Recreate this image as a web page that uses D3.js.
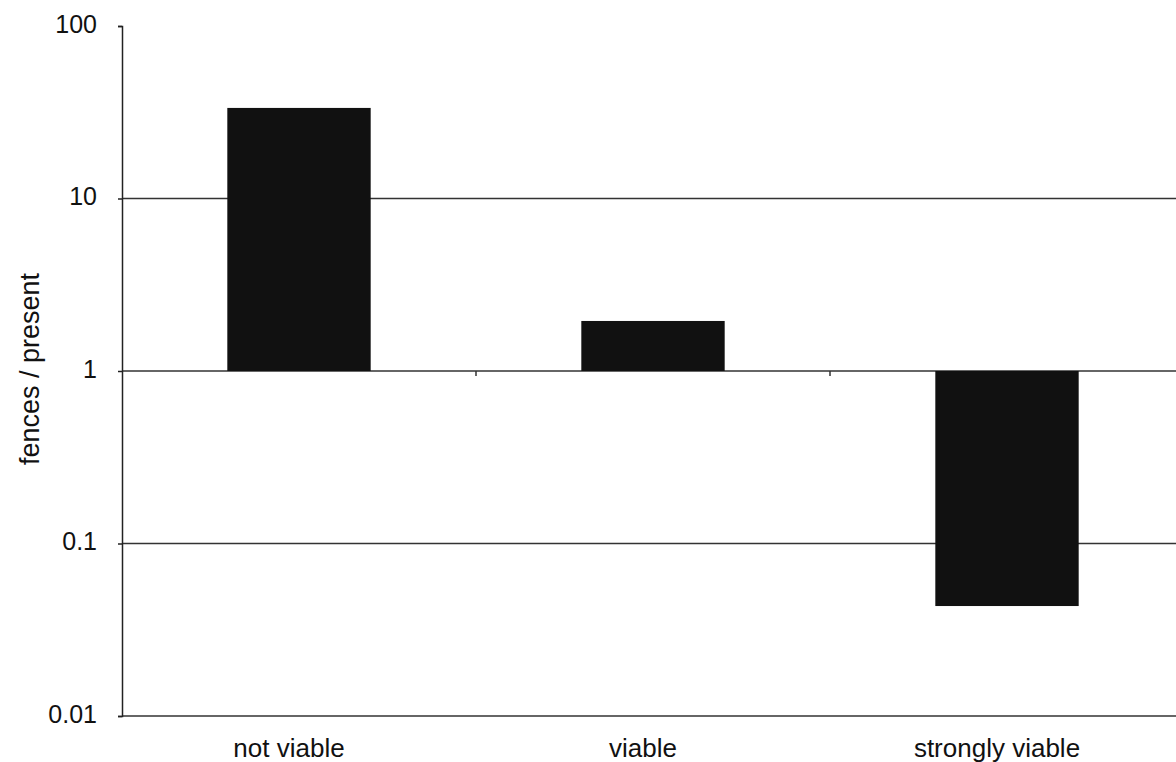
<!DOCTYPE html>
<html>
<head>
<meta charset="utf-8">
<script src="https://cdn.jsdelivr.net/npm/d3@7"></script>
<style>
  body { margin: 0; background: #fff; }
  text { font-family: "Liberation Sans", Arial, sans-serif; fill: #111; }
</style>
</head>
<body>
<div id="chart"></div>
<script>
// data
const categories = ["not viable", "viable", "strongly viable"];
const ratios = [33.5, 1.95, 0.0434];
const yTicks = [100, 10, 1, 0.1, 0.01];
const yTickLabels = ["100", "10", "1", "0.1", "0.01"];
const gridValues = [10, 1, 0.1, 0.01];

const margin = { top: 26, right: 0, bottom: 46, left: 122 };
const width = 1062;
const height = 690;

const svg = d3.select("#chart")
    .append("svg")
    .attr("width", 1176)
    .attr("height", 762)
    .append("g")
    .attr("transform", `translate(${margin.left},${margin.top})`);

const xScale = d3.scaleBand()
    .domain(categories)
    .range([0, width])
    .paddingInner(0)
    .paddingOuter(0);

const yScale = d3.scaleLog()
    .domain([0.01, 100])
    .range([height, 0]);

const barWidth = xScale.bandwidth() * 0.405;

// gridlines
svg.selectAll(".grid")
    .data(gridValues)
    .join("line")
    .attr("x1", 0)
    .attr("x2", width)
    .attr("y1", d => yScale(d))
    .attr("y2", d => yScale(d))
    .attr("stroke", "#333")
    .attr("stroke-width", 1.5);

// bars from baseline 1
svg.selectAll(".bar")
    .data(categories)
    .join("rect")
    .attr("x", d => xScale(d) + (xScale.bandwidth() - barWidth) / 2)
    .attr("width", barWidth)
    .attr("y", (d, i) => Math.min(yScale(ratios[i]), yScale(1)))
    .attr("height", (d, i) => Math.abs(yScale(ratios[i]) - yScale(1)))
    .attr("fill", "#111");

// y axis
const yAxis = svg.append("g")
    .call(d3.axisLeft(yScale)
        .tickValues(yTicks)
        .tickFormat((d, i) => yTickLabels[i])
        .tickSize(4)
        .tickPadding(21));
yAxis.attr("font-size", null).attr("font-family", null);
yAxis.select(".domain").attr("stroke", "#222").attr("stroke-width", 1.5);
yAxis.selectAll(".tick line").attr("stroke", "#222").attr("stroke-width", 1.5);
yAxis.selectAll(".tick text")
    .style("font-size", "25px")
    .attr("dy", "0.25em");

// category axis sitting on the value 1
const xAxis = svg.append("g")
    .attr("transform", `translate(0,${yScale(1)})`);
xAxis.selectAll("line")
    .data(categories.slice(1))
    .join("line")
    .attr("x1", d => xScale(d))
    .attr("x2", d => xScale(d))
    .attr("y1", 0)
    .attr("y2", 5)
    .attr("stroke", "#333")
    .attr("stroke-width", 1.5);

// category labels below the plot
svg.selectAll(".cat")
    .data(categories)
    .join("text")
    .attr("x", d => xScale(d) + xScale.bandwidth() / 2)
    .attr("dx", -10)
    .attr("y", height + 41)
    .attr("text-anchor", "middle")
    .style("font-size", "26px")
    .text(d => d);

// y axis title
svg.append("text")
    .attr("transform", "rotate(-90)")
    .attr("x", -yScale(1) + 2)
    .attr("y", -margin.left + 39)
    .attr("text-anchor", "middle")
    .style("font-size", "27px")
    .text("fences / present");
</script>
</body>
</html>
